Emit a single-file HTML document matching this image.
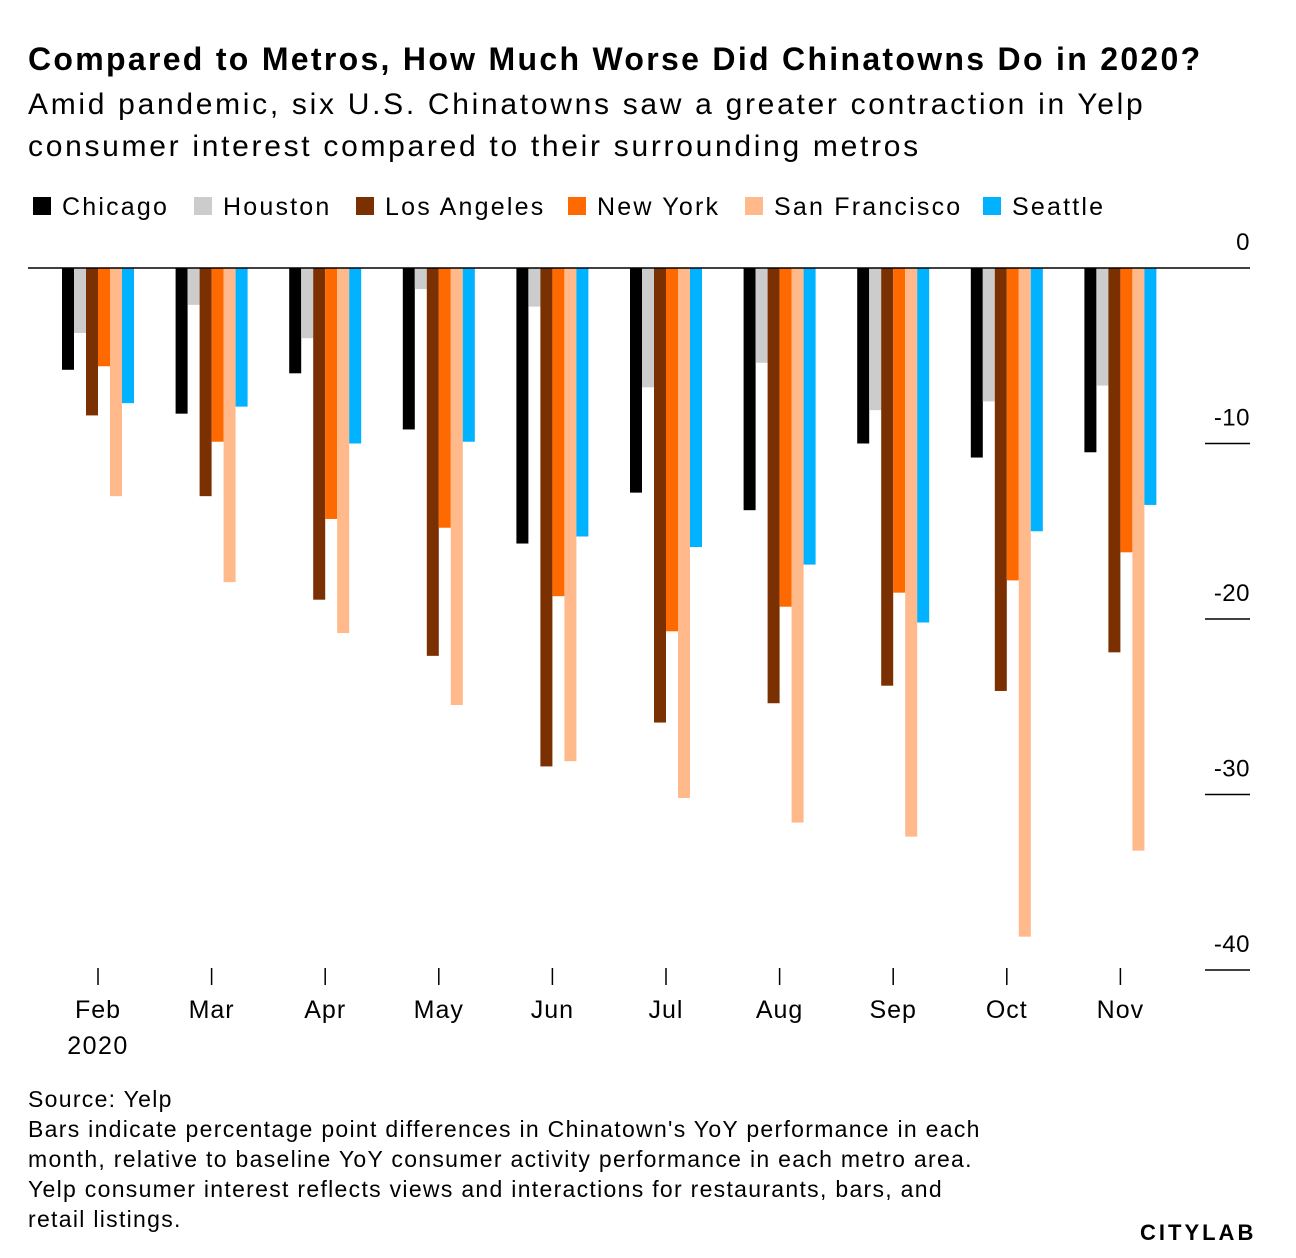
<!DOCTYPE html>
<html><head><meta charset="utf-8"><style>
body{margin:0;background:#fff;font-family:"Liberation Sans",sans-serif;}
.wrap{position:relative;width:1296px;height:1258px;overflow:hidden;}
.t{position:absolute;left:28px;color:#000;}
</style></head><body>
<div class="wrap">
<div class="t" style="top:41px;font-size:32px;font-weight:bold;letter-spacing:2.3px;white-space:nowrap">Compared to Metros, How Much Worse Did Chinatowns Do in 2020?</div>
<div class="t" style="top:84px;font-size:30px;line-height:42px;width:1200px;letter-spacing:2.7px">Amid pandemic, six U.S. Chinatowns saw a greater contraction in Yelp consumer interest compared to their surrounding metros</div>
<svg id="chart" width="1296" height="1258" style="position:absolute;left:0;top:0"></svg>
<div class="t" style="top:1084px;font-size:23px;line-height:30px;width:1000px;letter-spacing:1.3px">Source: Yelp<br>Bars indicate percentage point differences in Chinatown's YoY performance in each month, relative to baseline YoY consumer activity performance in each metro area.<br>Yelp consumer interest reflects views and interactions for restaurants, bars, and<br>retail listings.</div>
<div style="position:absolute;left:1140px;top:1220px;font-size:22px;font-weight:bold;letter-spacing:3px">CITYLAB</div>
</div>
<script>
const months=["Feb","Mar","Apr","May","Jun","Jul","Aug","Sep","Oct","Nov"];
const seriesNames=["Chicago","Houston","Los Angeles","New York","San Francisco","Seattle"];
const chicago=[-5.8,-8.3,-6.0,-9.2,-15.7,-12.8,-13.8,-10.0,-10.8,-10.5];
const houston=[-3.7,-2.1,-4.0,-1.2,-2.2,-6.8,-5.4,-8.1,-7.6,-6.7];
const losAngeles=[-8.4,-13.0,-18.9,-22.1,-28.4,-25.9,-24.8,-23.8,-24.1,-21.9];
const newYork=[-5.6,-9.9,-14.3,-14.8,-18.7,-20.7,-19.3,-18.5,-17.8,-16.2];
const sanFrancisco=[-13.0,-17.9,-20.8,-24.9,-28.1,-30.2,-31.6,-32.4,-38.1,-33.2];
const seattle=[-7.7,-7.9,-10.0,-9.9,-15.3,-15.9,-16.9,-20.2,-15.0,-13.5];
const yTicks=[0,-10,-20,-30,-40];
const colors=["#000000","#cccccc","#7a3000","#ff6a00","#ffb98a","#00b2ff"];
const series=[chicago,houston,losAngeles,newYork,sanFrancisco,seattle];
const NS="http://www.w3.org/2000/svg",svg=document.getElementById('chart');
const y=v=>268-v*17.55;
const x=i=>98+i*113.6;
const bw=12;
function mk(t,a){const e=document.createElementNS(NS,t);for(const k in a)e.setAttribute(k,a[k]);svg.appendChild(e);return e;}
const legendX=[33,194,356,568,745,983];
seriesNames.forEach((n,i)=>{
 const lx=legendX[i];
 const r=mk('rect',{x:lx,y:197,width:18,height:18,fill:colors[i]});
 
 
 const t=mk('text',{x:lx+29,y:215,'font-size':25,'letter-spacing':2.2,'font-family':'Liberation Sans, sans-serif'});t.textContent=n;
 
 
});
yTicks.forEach(v=>{
 const t=mk('text',{x:1250,y:y(v)-18,'text-anchor':'end','font-size':24,'letter-spacing':0.5,'font-family':'Liberation Sans, sans-serif'});t.textContent=v;
 
 
 if(v!==0){const l=mk('line',{x1:1205,x2:1250,y1:y(v),y2:y(v),stroke:'#000','stroke-width':1.5});
 
 }
});
months.forEach((m,i)=>{
 series.forEach((s,j)=>{
  const v=s[i];const bx=x(i)-36+j*bw;
  const r=mk('rect',{x:bx,y:y(0),width:bw,height:y(v)-y(0),fill:colors[j]});
  
  
 });
 const tk=mk('line',{x1:x(i),x2:x(i),y1:968,y2:985,stroke:'#000','stroke-width':1.5});
 
 
 const t=mk('text',{x:x(i),y:1018,'text-anchor':'middle','font-size':25,'letter-spacing':1,'font-family':'Liberation Sans, sans-serif'});t.textContent=m;
 
 
});
const yr=mk('text',{x:x(0),y:1054,'text-anchor':'middle','font-size':25,'letter-spacing':1.5,'font-family':'Liberation Sans, sans-serif'});yr.textContent='2020';


const z=mk('line',{x1:28,x2:1250,y1:y(0),y2:y(0),stroke:'#000','stroke-width':1.5});


</script>
</body></html>
